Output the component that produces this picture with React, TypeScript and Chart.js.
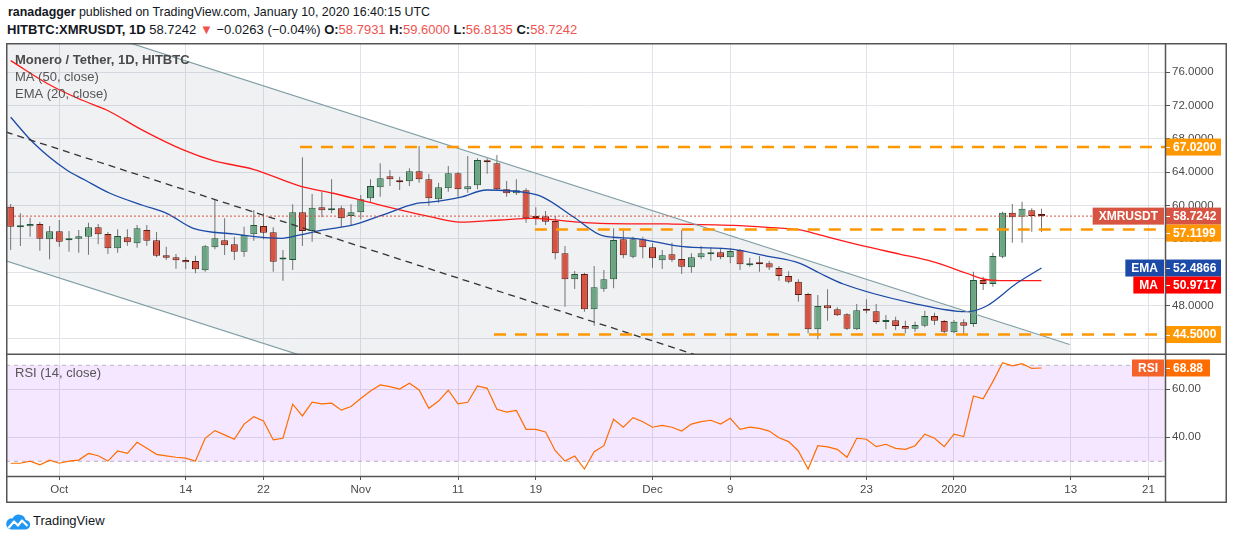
import React, { useEffect, useRef } from "react";
import { Chart, registerables } from "chart.js";

Chart.register(...registerables);

const FONT = '"Liberation Sans", Arial, sans-serif';

// ---------- data ----------
// day 0 = 1 Oct 2019, first candle = 26 Sep 2019 (day -5), last = 10 Jan 2020 (day 101)
const FIRST_DAY = -5;

const opens = [
  59.86, 57.40, 57.50, 57.78, 55.94, 56.90, 55.82, 56.01, 56.25, 57.38,
  56.58, 54.86, 56.18, 55.46, 57.06, 55.82, 54.02, 53.78, 53.45, 53.33,
  52.22, 54.98, 55.82, 55.34, 54.45, 56.54, 57.54, 56.78, 53.50, 53.45,
  59.18, 56.94, 59.78, 59.42, 59.66, 58.74, 59.18, 60.86, 62.19, 63.51,
  63.03, 62.91, 64.11, 63.15, 60.74, 62.07, 63.87, 61.95, 62.43, 65.43,
  65.07, 61.95, 61.47, 61.83, 58.58, 58.70, 58.14, 54.26, 51.14, 51.77,
  47.53, 50.01, 51.14, 55.94, 53.85, 55.94, 54.98, 53.42, 54.14, 53.57,
  52.57, 53.78, 54.14, 54.38, 53.78, 54.65, 52.82, 53.13, 53.06, 52.49,
  51.53, 50.85, 49.37, 45.13, 48.01, 47.53, 46.93, 45.13, 47.53, 47.29,
  46.00, 46.21, 45.52, 45.20, 45.56, 46.73, 46.13, 44.77, 45.97, 45.77,
  51.05, 50.57, 53.85, 59.14, 58.66, 59.42, 58.7931,
];
const highs = [
  60.18, 59.06, 58.53, 58.02, 57.54, 58.26, 56.94, 57.06, 57.94, 57.78,
  56.82, 57.14, 57.14, 57.66, 57.66, 56.82, 55.05, 54.17, 53.78, 53.97,
  55.26, 60.74, 58.46, 56.25, 57.45, 59.46, 59.06, 57.38, 54.65, 60.14,
  65.79, 61.38, 61.66, 63.15, 59.97, 60.14, 61.26, 63.15, 65.07, 64.26,
  63.46, 64.47, 67.15, 63.78, 62.74, 64.74, 64.02, 65.95, 65.67, 65.67,
  66.07, 62.94, 63.15, 62.07, 59.78, 59.34, 58.74, 55.14, 52.13, 51.93,
  52.73, 52.25, 57.26, 57.06, 56.25, 56.25, 55.46, 54.65, 55.53, 57.06,
  54.26, 55.14, 54.98, 54.86, 54.86, 54.78, 53.73, 53.93, 53.33, 52.73,
  52.10, 51.14, 49.53, 49.25, 49.93, 47.77, 47.05, 48.17, 48.73, 48.17,
  46.85, 46.64, 46.16, 46.04, 47.36, 47.12, 46.25, 46.25, 46.33, 52.05,
  51.45, 54.33, 59.26, 60.18, 60.46, 59.66, 59.60,
];
const lows = [
  54.65, 55.14, 56.25, 54.57, 53.54, 55.05, 54.45, 54.33, 54.09, 55.34,
  54.17, 54.33, 55.17, 54.93, 55.17, 53.78, 53.45, 52.41, 52.37, 51.85,
  52.05, 54.74, 54.05, 53.45, 53.85, 55.77, 55.94, 52.05, 50.97, 52.25,
  55.14, 55.65, 58.58, 59.06, 57.38, 57.54, 58.34, 60.46, 61.06, 62.34,
  61.86, 62.34, 62.74, 59.97, 60.34, 61.66, 61.06, 61.54, 61.95, 63.82,
  61.78, 61.06, 61.26, 57.94, 57.66, 57.66, 53.54, 47.84, 49.97, 47.24,
  45.56, 49.64, 50.05, 53.66, 53.66, 53.66, 52.53, 52.37, 53.25, 51.77,
  51.93, 53.54, 53.37, 53.54, 53.06, 52.25, 52.65, 52.05, 52.25, 50.97,
  50.65, 48.44, 44.65, 43.93, 46.16, 46.73, 45.04, 45.04, 47.05, 45.77,
  45.13, 45.04, 44.65, 44.84, 45.37, 45.65, 44.65, 44.65, 44.57, 45.44,
  49.85, 50.25, 53.66, 55.53, 55.53, 56.85, 56.8135,
];
const closes = [
  57.45, 57.50, 57.78, 56.01, 56.90, 55.65, 56.06, 56.30, 57.38, 56.54,
  54.86, 56.34, 55.58, 57.26, 55.77, 53.97, 53.73, 53.42, 53.18, 52.34,
  55.10, 56.06, 55.22, 54.45, 56.46, 57.66, 56.73, 53.25, 53.58, 59.18,
  56.94, 59.74, 59.42, 59.66, 58.46, 59.18, 60.74, 62.34, 63.27, 63.15,
  62.79, 64.11, 63.15, 60.87, 62.19, 63.87, 61.95, 62.31, 65.47, 65.19,
  61.95, 61.47, 61.83, 58.46, 58.50, 58.05, 54.26, 51.14, 51.77, 47.53,
  50.17, 51.14, 55.86, 54.02, 55.94, 54.98, 53.66, 54.02, 53.49, 52.65,
  53.78, 54.26, 54.38, 53.78, 54.53, 52.94, 53.06, 52.94, 52.55, 51.53,
  50.85, 49.25, 45.13, 47.93, 47.65, 46.81, 45.20, 47.41, 47.36, 46.00,
  46.21, 45.52, 45.20, 45.65, 46.73, 46.16, 44.84, 46.04, 45.56, 51.05,
  50.57, 53.93, 59.14, 58.58, 59.62, 58.7505, 58.7242,
];
const rsiValues = [
  29.2, 29.2, 30.1, 28.5, 30.5, 29.2, 30.1, 30.5, 33.3, 32.3,
  30.1, 34.3, 33.3, 37.9, 35.4, 32.9, 32.3, 31.7, 31.3, 30.1,
  39.6, 42.8, 41.0, 39.2, 45.5, 48.6, 46.8, 38.9, 39.6, 53.8,
  48.9, 54.6, 53.9, 54.2, 51.3, 52.8, 56.2, 59.3, 61.8, 61.1,
  60.1, 62.5, 59.7, 52.1, 55.1, 59.6, 53.9, 54.6, 61.4, 60.4,
  51.7, 50.5, 51.2, 43.3, 43.3, 42.2, 34.4, 30.1, 32.2, 26.8,
  34.0, 36.5, 47.5, 44.2, 48.2, 46.5, 44.2, 45.0, 44.2, 42.6,
  45.5, 46.5, 47.1, 45.5, 47.9, 43.3, 44.2, 43.7, 42.6, 39.8,
  38.2, 34.3, 26.8, 36.5, 36.0, 35.0, 31.7, 39.6, 39.2, 36.1,
  37.1, 35.4, 35.0, 36.5, 41.3, 39.6, 36.1, 41.3, 40.3, 57.2,
  56.0, 63.2, 71.1, 69.8, 70.7, 68.7, 68.88,
];

// [day, value]
const maPoints: [number, number][] = [
  [-5, 77.4], [-0.96, 74.47], [2.3, 72.67], [4.87, 71.47], [8.64, 68.99],
  [12.75, 66.67], [15.84, 65.38], [19.95, 64.35], [24.75, 62.34], [28.17, 61.47],
  [31.61, 60.46], [35.03, 59.46], [38.12, 58.65], [41.2, 58.0], [45.3, 58.26],
  [48.7, 58.46], [52.8, 58.05], [55.6, 57.86], [62.5, 57.78], [69.3, 57.62],
  [72.8, 57.38], [76.2, 57.06], [78.2, 56.46], [83.0, 55.05], [86.4, 54.17],
  [89.8, 53.25], [93.3, 51.86], [95.0, 51.17], [96.7, 50.97], [101, 50.9717],
];
const emaPoints: [number, number][] = [
  [-5, 70.6], [-2.67, 67.54], [0.76, 64.26], [2.64, 63.06], [5.21, 61.47],
  [8.64, 60.0], [11.04, 59.06], [13.78, 57.26], [17.89, 56.58], [22.87, 56.06],
  [24.75, 56.46], [27.15, 57.06], [30.23, 57.66], [32.98, 58.74], [36.75, 60.26],
  [38.12, 60.4], [41.2, 60.98], [43.95, 61.86], [48.06, 61.54], [49.77, 60.98],
  [52.85, 58.65], [55.94, 56.34], [59.02, 56.06], [64.16, 55.05], [69.31, 54.74],
  [72.74, 53.93], [76.16, 53.06], [78.22, 51.86], [80.62, 50.57], [87.82, 48.25],
  [93.3, 47.24], [95.36, 47.93], [98.45, 50.65], [101, 52.4866],
];

// trend channel drawn on the chart: [day, price]
const channelUpper: [number, number][] = [[-5.5, 84.3], [103.9, 43.3]];
const channelLower: [number, number][] = [[-5.5, 53.36], [103.9, 12.37]];
const channelMid: [number, number][] = [[-5.5, 68.83], [65.6, 42.0]];

// horizontal support / resistance levels: value and day where the line starts
const levelValues = [67.02, 57.1199, 44.5];
const levelStartDays = [24.75, 48.9, 44.7];

const tickDays = [0, 13, 21, 31, 41, 49, 61, 69, 83, 92, 104, 112];
const tickLabels = ["Oct", "14", "22", "Nov", "11", "19", "Dec", "9", "23", "2020", "13", "21"];
const priceTicks = [44, 48, 52, 56, 60, 64, 68, 72, 76];
const rsiTicks = [40, 60];
const rsiBands = [70, 30];

// ---------- view settings ----------
const X_MIN = -5.48;
const X_MAX = 113.7;
const P_MIN = 42.04;
const P_MAX = 79.52;
const R_MIN = 23.88;
const R_MAX = 74.29;
const AXIS_W = 62;

const UP = "#6ba583";
const DOWN = "#d75442";
const UP_BORDER = "#225437";
const DOWN_BORDER = "#5b1a13";
const WICK = "#737375";
const GRID = "#e1e3e8";
const FRAME = "#555555";
const ORANGE = "#ff9800";
const MA_COLOR = "#ff1a1a";
const EMA_COLOR = "#1b4aa8";
const CHANNEL = "#7f9fa4";
const RSI_COLOR = "#ff6d00";

const days = opens.map((_, i) => FIRST_DAY + i);
const toXY = (a: [number, number][]) => a.map(([x, y]) => ({ x, y }));
const fmtSigned = (v: number, d: number) => (v < 0 ? "\u2212" : "+") + Math.abs(v).toFixed(d);

function fixedTicks(values: number[]) {
  return (scale: any) => {
    scale.ticks = values.map((v) => ({ value: v }));
  };
}

function fitTo(size: { width?: number; height?: number }) {
  return (s: any) => {
    if (size.width !== undefined) s.width = size.width;
    if (size.height !== undefined) s.height = size.height;
    s.paddingTop = 0;
    s.paddingBottom = 0;
    s.paddingLeft = 0;
    s.paddingRight = 0;
  };
}

function drawTag(ctx: CanvasRenderingContext2D, right: number, yc: number, text: string, bg: string) {
  ctx.font = `bold 12px ${FONT}`;
  const w = ctx.measureText(text).width + 12;
  ctx.fillStyle = bg;
  ctx.fillRect(right - w, yc - 8.5, w, 17);
  ctx.fillStyle = "#ffffff";
  ctx.textAlign = "left";
  ctx.textBaseline = "middle";
  ctx.fillText(text, right - w + 6, yc + 0.5);
}

function drawValueBox(ctx: CanvasRenderingContext2D, left: number, yc: number, w: number, text: string, bg: string) {
  ctx.fillStyle = bg;
  ctx.fillRect(left, yc - 8.5, w, 17);
  ctx.strokeStyle = "#ffffff";
  ctx.lineWidth = 1;
  ctx.beginPath();
  ctx.moveTo(left, Math.round(yc) + 0.5);
  ctx.lineTo(left + 4, Math.round(yc) + 0.5);
  ctx.stroke();
  ctx.fillStyle = "#ffffff";
  ctx.font = `bold 12px ${FONT}`;
  ctx.textAlign = "left";
  ctx.textBaseline = "middle";
  ctx.fillText(text, left + 7, yc + 0.5);
}

const pricePanePlugin = {
  id: "pricePane",
  afterDraw(chart: any) {
    const { ctx, chartArea: a, scales } = chart;
    const W = chart.width;
    const H = chart.height;
    ctx.save();
    // legend
    ctx.textAlign = "left";
    ctx.textBaseline = "middle";
    ctx.fillStyle = "#4a4a4a";
    ctx.font = `bold 13px ${FONT}`;
    ctx.fillText("Monero / Tether, 1D, HITBTC", 9, 17);
    ctx.font = `13px ${FONT}`;
    ctx.fillStyle = "#555555";
    ctx.fillText("MA (50, close)", 9, 34.5);
    ctx.fillText("EMA (20, close)", 9, 51.5);

    // price labels on the axis
    const last = closes[closes.length - 1];
    const items: any[] = [
      ...levelValues.map((v) => ({ value: v, bg: ORANGE })),
      { value: last, bg: DOWN, tag: "XMRUSDT" },
      { value: emaPoints[emaPoints.length - 1][1], bg: EMA_COLOR, tag: "EMA" },
      { value: maPoints[maPoints.length - 1][1], bg: "#ff0000", tag: "MA" },
    ].map((it) => ({ ...it, yc: scales.y.getPixelForValue(it.value) }));
    items.sort((p, q) => p.yc - q.yc);
    for (let i = 1; i < items.length; i++) {
      if (items[i].yc < items[i - 1].yc + 17) items[i].yc = items[i - 1].yc + 17;
    }
    items.forEach((it) => {
      drawValueBox(ctx, a.right + 1, it.yc, 55, it.value.toFixed(4), it.bg);
      if (it.tag) drawTag(ctx, a.right - 1, it.yc, it.tag, it.bg);
    });

    // frame
    ctx.strokeStyle = FRAME;
    ctx.lineWidth = 1.5;
    ctx.strokeRect(0.75, 0.75, W - 1.5, H - 1.5);
    ctx.beginPath();
    ctx.moveTo(a.right + 0.5, 0);
    ctx.lineTo(a.right + 0.5, H);
    ctx.stroke();
    ctx.restore();
  },
};

const rsiPanePlugin = {
  id: "rsiPane",
  afterDraw(chart: any) {
    const { ctx, chartArea: a, scales } = chart;
    const W = chart.width;
    const H = chart.height;
    ctx.save();
    ctx.textAlign = "left";
    ctx.textBaseline = "middle";
    ctx.fillStyle = "#555555";
    ctx.font = `13px ${FONT}`;
    ctx.fillText("RSI (14, close)", 9, 18);

    const lastRsi = rsiValues[rsiValues.length - 1];
    const yc = scales.y.getPixelForValue(lastRsi);
    drawValueBox(ctx, a.right + 1, yc, 44, lastRsi.toFixed(2), RSI_COLOR);
    drawTag(ctx, a.right - 1, yc, "RSI", "#f4622a");

    ctx.strokeStyle = FRAME;
    ctx.lineWidth = 1.5;
    ctx.beginPath();
    ctx.moveTo(0.75, 0);
    ctx.lineTo(0.75, H - 0.75);
    ctx.lineTo(W - 0.75, H - 0.75);
    ctx.lineTo(W - 0.75, 0);
    ctx.moveTo(a.right + 0.5, 0);
    ctx.lineTo(a.right + 0.5, H);
    ctx.moveTo(0, a.bottom + 0.5);
    ctx.lineTo(a.right, a.bottom + 0.5);
    ctx.stroke();
    ctx.restore();
  },
};

function lineDs(data: { x: number; y: number }[], extra: any) {
  return {
    type: "line",
    data,
    pointRadius: 0,
    borderWidth: 1,
    fill: false,
    tension: 0,
    ...extra,
  };
}

function buildPriceConfig(): any {
  const isUp = (i: number) => closes[i] >= opens[i];
  const last = closes[closes.length - 1];
  return {
    type: "line",
    data: {
      datasets: [
        lineDs(toXY(channelUpper), { borderWidth: 0, fill: "+1", backgroundColor: "rgba(110,120,140,0.1)", order: 20 }),
        lineDs(toXY(channelLower), { borderWidth: 0, order: 21 }),
        {
          type: "bar",
          data: days.map((d, i) => ({ x: d, y: [lows[i], highs[i]] })),
          backgroundColor: WICK,
          borderWidth: 0,
          barThickness: 1,
          inflateAmount: 0,
          grouped: false,
          order: 12,
        },
        {
          type: "bar",
          data: days.map((d, i) => ({ x: d, y: [opens[i], closes[i]] })),
          backgroundColor: (c: any) => (isUp(c.dataIndex) ? UP : DOWN),
          borderColor: (c: any) => (isUp(c.dataIndex) ? UP_BORDER : DOWN_BORDER),
          borderWidth: 1,
          borderSkipped: false,
          barThickness: 7,
          minBarLength: 2,
          inflateAmount: 0,
          grouped: false,
          order: 11,
        },
        lineDs(toXY(maPoints), { borderColor: MA_COLOR, borderWidth: 1.3, cubicInterpolationMode: "monotone", order: 5 }),
        lineDs(toXY(emaPoints), { borderColor: EMA_COLOR, borderWidth: 1.3, cubicInterpolationMode: "monotone", order: 4 }),
        lineDs(toXY(channelUpper), { borderColor: CHANNEL, borderWidth: 1.2, order: 3 }),
        lineDs(toXY(channelLower), { borderColor: CHANNEL, borderWidth: 1.2, order: 3 }),
        lineDs(toXY(channelMid), { borderColor: "#333333", borderWidth: 1.3, borderDash: [7, 5], order: 3 }),
        ...levelValues.map((v, i) =>
          lineDs(
            [
              { x: levelStartDays[i], y: v },
              { x: X_MAX, y: v },
            ],
            { borderColor: ORANGE, borderWidth: 2.5, borderDash: [12, 9], order: 2 }
          )
        ),
        lineDs(
          [
            { x: X_MIN, y: last },
            { x: X_MAX, y: last },
          ],
          { borderColor: DOWN, borderWidth: 1, borderDash: [2, 2], order: 1 }
        ),
      ],
    },
    options: {
      animation: false,
      responsive: false,
      events: [],
      layout: { padding: 0 },
      plugins: { legend: { display: false }, tooltip: { enabled: false } },
      scales: {
        x: {
          type: "linear",
          min: X_MIN,
          max: X_MAX,
          offset: false,
          afterBuildTicks: fixedTicks(tickDays),
          afterFit: fitTo({ height: 0 }),
          grid: { color: GRID, drawTicks: false, offset: false },
          border: { display: false },
          ticks: { display: false },
        },
        y: {
          type: "linear",
          position: "right",
          min: P_MIN,
          max: P_MAX,
          afterBuildTicks: fixedTicks(priceTicks),
          afterFit: fitTo({ width: AXIS_W }),
          grid: { color: GRID, drawTicks: true, tickLength: 5, tickColor: FRAME },
          border: { display: false },
          ticks: {
            color: "#4a4a4a",
            padding: 2,
            font: { family: FONT, size: 11.5 },
            callback: (v: any) => Number(v).toFixed(4),
          },
        },
      },
    },
    plugins: [pricePanePlugin],
  };
}

function buildRsiConfig(): any {
  return {
    type: "line",
    data: {
      datasets: [
        lineDs(
          [
            { x: X_MIN, y: rsiBands[0] },
            { x: X_MAX, y: rsiBands[0] },
          ],
          { borderColor: "#b8b8c0", borderDash: [4, 4], fill: "+1", backgroundColor: "rgba(153,21,255,0.1)", order: 5 }
        ),
        lineDs(
          [
            { x: X_MIN, y: rsiBands[1] },
            { x: X_MAX, y: rsiBands[1] },
          ],
          { borderColor: "#b8b8c0", borderDash: [4, 4], order: 6 }
        ),
        lineDs(
          days.map((d, i) => ({ x: d, y: rsiValues[i] })),
          { borderColor: RSI_COLOR, borderWidth: 1.2, order: 1 }
        ),
      ],
    },
    options: {
      animation: false,
      responsive: false,
      events: [],
      layout: { padding: 0 },
      plugins: { legend: { display: false }, tooltip: { enabled: false } },
      scales: {
        x: {
          type: "linear",
          min: X_MIN,
          max: X_MAX,
          offset: false,
          afterBuildTicks: fixedTicks(tickDays),
          afterFit: fitTo({ height: 27 }),
          grid: { color: GRID, drawTicks: true, tickLength: 4, tickColor: FRAME, offset: false },
          border: { display: false },
          ticks: {
            color: "#4a4a4a",
            padding: 3,
            autoSkip: false,
            maxRotation: 0,
            font: { family: FONT, size: 11.5 },
            callback: (v: any) => {
              const k = tickDays.indexOf(Number(v));
              return k >= 0 ? tickLabels[k] : "";
            },
          },
        },
        y: {
          type: "linear",
          position: "right",
          min: R_MIN,
          max: R_MAX,
          afterBuildTicks: fixedTicks(rsiTicks),
          afterFit: fitTo({ width: AXIS_W }),
          grid: { color: GRID, drawTicks: true, tickLength: 5, tickColor: FRAME },
          border: { display: false },
          ticks: {
            color: "#4a4a4a",
            padding: 2,
            font: { family: FONT, size: 11.5 },
            callback: (v: any) => Number(v).toFixed(2),
          },
        },
      },
    },
    plugins: [rsiPanePlugin],
  };
}

function Logo() {
  return (
    <svg width="24" height="18" viewBox="0 0 24 18">
      <path d="M5 17.5 H19 A4.8 4.8 0 0 0 19.6 7.9 A7 7 0 0 0 6.6 6.4 A5.6 5.6 0 0 0 5 17.5 Z" fill="#2196f3" />
      <polyline points="2.5,16 8,9.5 12,13.5 16,8.5 21.5,14" fill="none" stroke="#ffffff" strokeWidth="2.2" strokeLinejoin="round" />
    </svg>
  );
}

export default function App() {
  const priceRef = useRef<HTMLCanvasElement>(null);
  const rsiRef = useRef<HTMLCanvasElement>(null);

  useEffect(() => {
    Chart.defaults.font.family = FONT;
    const c1 = new Chart(priceRef.current as HTMLCanvasElement, buildPriceConfig());
    const c2 = new Chart(rsiRef.current as HTMLCanvasElement, buildRsiConfig());
    return () => {
      c1.destroy();
      c2.destroy();
    };
  }, []);

  const last = closes[closes.length - 1];
  const prev = closes[closes.length - 2];
  const chg = last - prev;
  const pct = (chg / prev) * 100;
  const red = { color: "#ef5350" };
  const txt: React.CSSProperties = {
    position: "absolute",
    left: 8,
    whiteSpace: "nowrap",
    fontFamily: FONT,
    fontSize: 13,
    lineHeight: "16px",
    color: "#131722",
  };

  return (
    <div style={{ position: "fixed", left: 0, top: 0, width: 1234, height: 540, background: "#ffffff", overflow: "hidden" }}>
      <div style={{ ...txt, top: 4, fontSize: 12.4 }}>
        <b>ranadagger</b> published on TradingView.com, January 10, 2020 16:40:15 UTC
      </div>
      <div style={{ ...txt, top: 22, left: 7 }}>
        <b>HITBTC:XMRUSDT, 1D</b> {last.toFixed(4)} <span style={red}>▼</span> {fmtSigned(chg, 4)} ({fmtSigned(pct, 2)}%){" "}
        <b>O:</b>
        <span style={red}>{opens[opens.length - 1].toFixed(4)}</span> <b>H:</b>
        <span style={red}>{highs[highs.length - 1].toFixed(4)}</span> <b>L:</b>
        <span style={red}>{lows[lows.length - 1].toFixed(4)}</span> <b>C:</b>
        <span style={red}>{last.toFixed(4)}</span>
      </div>
      <canvas ref={priceRef} width={1221} height={312} style={{ position: "absolute", left: 6, top: 43, width: 1221, height: 312 }} />
      <canvas ref={rsiRef} width={1221} height={148} style={{ position: "absolute", left: 6, top: 355, width: 1221, height: 148 }} />
      <div style={{ position: "absolute", left: 6, top: 512 }}>
        <Logo />
      </div>
      <div style={{ ...txt, left: 33, top: 513, fontSize: 13 }}>TradingView</div>
    </div>
  );
}
